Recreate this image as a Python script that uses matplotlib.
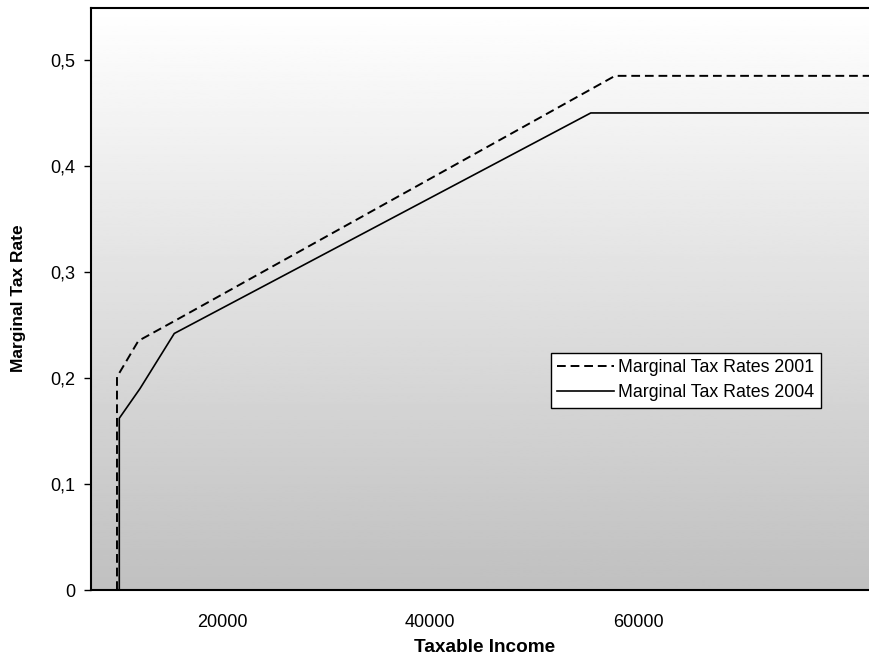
import numpy as np
import matplotlib
matplotlib.use("Agg")
import matplotlib.pyplot as plt

plt.rcParams['font.family'] = ['Liberation Sans', 'DejaVu Sans']

# marginal tax rates (income in EUR, rate as fraction)
income_2001 = [9920, 9920, 11970, 15300, 57730, 90000]
rate_2001 = [0.0, 0.201, 0.235, 0.253, 0.485, 0.485]

income_2004 = [10140, 10140, 12130, 15420, 55400, 90000]
rate_2004 = [0.0, 0.162, 0.19, 0.242, 0.45, 0.45]

yticks = [0, 0.1, 0.2, 0.3, 0.4, 0.5]
ytick_labels = ["0", "0,1", "0,2", "0,3", "0,4", "0,5"]
xticks = [20000, 40000, 60000]

fig = plt.figure(figsize=(8.69, 6.56), dpi=100)
ax = fig.add_axes([0.1047, 0.1006, 0.8953, 0.8872])

# grey gradient background, white on top
grad = np.linspace(1.0, 0.753, 256).reshape(-1, 1)
ax.imshow(grad, cmap="gray", vmin=0, vmax=1, aspect="auto",
          extent=[0, 1, 0, 1], transform=ax.transAxes, zorder=0)

ax.plot(income_2001, rate_2001, color="black", lw=1.4,
        linestyle=(0, (4.5, 2.5)), label="Marginal Tax Rates 2001", zorder=3)
ax.plot(income_2004, rate_2004, color="black", lw=1.2,
        label="Marginal Tax Rates 2004", zorder=3)

ax.set_xlim(7424, 82110)
ax.set_ylim(0, 0.549)

ax.set_yticks(yticks)
ax.set_yticklabels(ytick_labels)
ax.set_xticks(xticks)
ax.set_xticklabels([str(x) for x in xticks])
ax.tick_params(axis="y", direction="out", length=5, width=1, labelsize=13, pad=6)
ax.tick_params(axis="x", length=0, labelsize=13, pad=17)

for s in ["left", "bottom", "top"]:
    ax.spines[s].set_linewidth(1.5)
ax.spines["right"].set_visible(False)

ax.set_xlabel("Taxable Income", fontsize=13.7, fontweight="bold")
ax.xaxis.set_label_coords(0.506, -0.098)
ax.xaxis.label.set_va("center")
ax.set_ylabel("Marginal Tax Rate", fontsize=12.5, fontweight="bold")
ax.yaxis.set_label_coords(-0.0935, 0.5015)
ax.yaxis.label.set_va("center")

leg = ax.legend(loc="upper left", bbox_to_anchor=(0.591, 0.407), fontsize=12.8,
                frameon=True, fancybox=False, framealpha=1, edgecolor="black",
                borderpad=0.35, handlelength=3.2, handletextpad=0.25, labelspacing=0.45,
                borderaxespad=0)
leg.get_frame().set_linewidth(1.0)

fig.savefig("out.png", dpi=100)
